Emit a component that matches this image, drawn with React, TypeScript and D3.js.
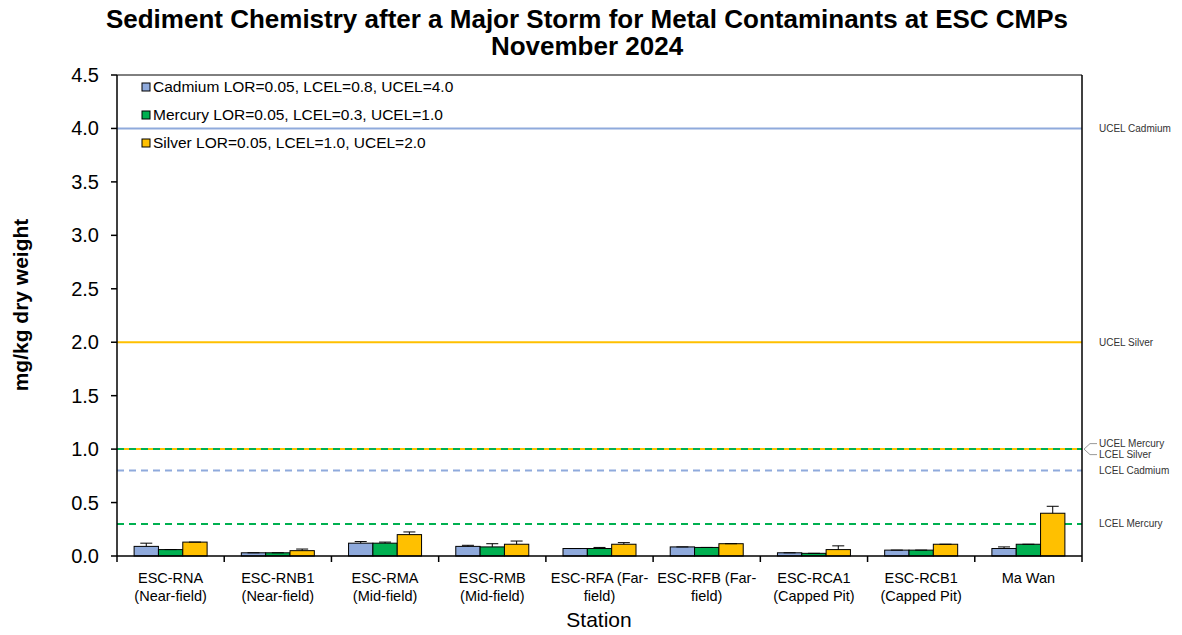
import React from "react";
import * as d3 from "d3";

const stations = ["ESC-RNA", "ESC-RNB1", "ESC-RMA", "ESC-RMB", "ESC-RFA", "ESC-RFB", "ESC-RCA1", "ESC-RCB1", "Ma Wan"];
const stationLabels: string[][] = [
  ["ESC-RNA", "(Near-field)"],
  ["ESC-RNB1", "(Near-field)"],
  ["ESC-RMA", "(Mid-field)"],
  ["ESC-RMB", "(Mid-field)"],
  ["ESC-RFA (Far-", "field)"],
  ["ESC-RFB (Far-", "field)"],
  ["ESC-RCA1", "(Capped Pit)"],
  ["ESC-RCB1", "(Capped Pit)"],
  ["Ma Wan"],
];
const seriesNames = ["Cadmium", "Mercury", "Silver"];
const legendLabels = [
  "Cadmium LOR=0.05, LCEL=0.8, UCEL=4.0",
  "Mercury LOR=0.05, LCEL=0.3, UCEL=1.0",
  "Silver LOR=0.05, LCEL=1.0, UCEL=2.0",
];
const cadmium = [0.09, 0.03, 0.12, 0.09, 0.07, 0.085, 0.03, 0.055, 0.07];
const cadmiumErr = [0.03, 0.0, 0.015, 0.01, 0.0, 0.0, 0.0, 0.0, 0.015];
const mercury = [0.06, 0.03, 0.12, 0.085, 0.07, 0.08, 0.025, 0.055, 0.11];
const mercuryErr = [0.0, 0.0, 0.01, 0.03, 0.01, 0.0, 0.0, 0.0, 0.0];
const silver = [0.13, 0.05, 0.2, 0.11, 0.11, 0.115, 0.06, 0.11, 0.4];
const silverErr = [0.0, 0.015, 0.025, 0.03, 0.015, 0.0, 0.035, 0.0, 0.065];
const yTicks = [0, 0.5, 1.0, 1.5, 2.0, 2.5, 3.0, 3.5, 4.0, 4.5];

const refLines = [
  { value: 4.0, color: "#8FAADC", dashed: false },
  { value: 2.0, color: "#FFC000", dashed: false },
  { value: 1.0, color: "#FFC000", dashed: false },
  { value: 1.0, color: "#00B050", dashed: true },
  { value: 0.8, color: "#8FAADC", dashed: true },
  { value: 0.3, color: "#00B050", dashed: true },
];
const refLabels = [
  { text: "UCEL Cadmium", value: 4.0, offset: 0 },
  { text: "UCEL Silver", value: 2.0, offset: 0 },
  { text: "UCEL Mercury", value: 1.0, offset: -5.5 },
  { text: "LCEL Silver", value: 1.0, offset: 5.5 },
  { text: "LCEL Cadmium", value: 0.8, offset: 0 },
  { text: "LCEL Mercury", value: 0.3, offset: 0 },
];

const colors = ["#8FAADC", "#00B050", "#FFC000"];
const FONT = "'Liberation Sans', Arial, sans-serif";

export default function App() {
  const W = 1182, H = 635;
  const m = { left: 117, right: 1082, top: 75, bottom: 556 };
  const y = d3.scaleLinear().domain([0, 4.5]).range([m.bottom, m.top]);
  const x = d3.scaleBand<string>().domain(stations).range([m.left, m.right]).paddingInner(0).paddingOuter(0);
  const inner = d3.scaleBand<string>().domain(seriesNames).range([0, 73]);
  const groupOffset = (x.bandwidth() - 73) / 2;
  const series = [
    { vals: cadmium, errs: cadmiumErr },
    { vals: mercury, errs: mercuryErr },
    { vals: silver, errs: silverErr },
  ];

  return (
    <svg width={W} height={H} style={{ position: "absolute", left: 0, top: 0, background: "#fff" }} fontFamily={FONT}>
      <rect x={0} y={0} width={W} height={H} fill="#fff" />
      {/* Title */}
      <text x={587} y={28} textAnchor="middle" fontSize={26} fontWeight="bold" fill="#000">
        Sediment Chemistry after a Major Storm for Metal Contaminants at ESC CMPs
      </text>
      <text x={587} y={55} textAnchor="middle" fontSize={26} fontWeight="bold" fill="#000">
        November 2024
      </text>

      {/* Reference lines */}
      {refLines.map((r, i) => (
        <line key={"rl" + i} x1={m.left} x2={m.right} y1={y(r.value)} y2={y(r.value)}
          stroke={r.color} strokeWidth={2} strokeDasharray={r.dashed ? "7,5" : undefined} />
      ))}

      {/* Bars */}
      {series.map((s, si) =>
        stations.map((st, i) => {
          const bx = (x(st) as number) + groupOffset + (inner(seriesNames[si]) as number);
          const bw = inner.bandwidth();
          const top = y(s.vals[i]);
          const errTop = y(s.vals[i] + s.errs[i]);
          const cx = bx + bw / 2;
          return (
            <g key={"b" + si + "-" + i}>
              <rect x={bx} y={top} width={bw} height={m.bottom - top} fill={colors[si]} stroke="#000" strokeWidth={1} />
              <line x1={cx} x2={cx} y1={top} y2={errTop} stroke="#000" strokeWidth={1} />
              <line x1={cx - 6} x2={cx + 6} y1={errTop} y2={errTop} stroke="#000" strokeWidth={1} />
            </g>
          );
        })
      )}

      {/* Frame */}
      <line x1={m.left} x2={m.right} y1={m.top} y2={m.top} stroke="#000" strokeWidth={1} />
      <line x1={m.right} x2={m.right} y1={m.top} y2={m.bottom} stroke="#000" strokeWidth={1.5} />
      <line x1={m.left} x2={m.left} y1={m.top} y2={m.bottom} stroke="#000" strokeWidth={1.5} />
      <line x1={m.left} x2={m.right} y1={m.bottom} y2={m.bottom} stroke="#000" strokeWidth={1.5} />

      {/* Y axis ticks */}
      {yTicks.map((t) => (
        <g key={"yt" + t}>
          <line x1={m.left - 6} x2={m.left} y1={y(t)} y2={y(t)} stroke="#000" strokeWidth={1.5} />
          <text x={99} y={y(t)} dy="0.35em" textAnchor="end" fontSize={20} fill="#000">
            {d3.format(".1f")(t)}
          </text>
        </g>
      ))}

      {/* X axis ticks */}
      {stations.map((st, i) => (
        <line key={"xt" + i} x1={(x(st) as number)} x2={(x(st) as number)} y1={m.bottom} y2={m.bottom + 6} stroke="#000" strokeWidth={1.5} />
      ))}
      <line x1={m.right} x2={m.right} y1={m.bottom} y2={m.bottom + 6} stroke="#000" strokeWidth={1.5} />
      {stations.map((st, i) => (
        <text key={"xl" + i} x={(x(st) as number) + x.bandwidth() / 2} y={583} textAnchor="middle" fontSize={14.5} fill="#000">
          {stationLabels[i].map((l, li) => (
            <tspan key={li} x={(x(st) as number) + x.bandwidth() / 2} dy={li === 0 ? 0 : 18}>{l}</tspan>
          ))}
        </text>
      ))}

      {/* Axis titles */}
      <text x={599} y={627} textAnchor="middle" fontSize={21} fill="#000">Station</text>
      <text transform={`translate(28,305) rotate(-90)`} textAnchor="middle" fontSize={21} fontWeight="bold" fill="#000">
        mg/kg dry weight
      </text>

      {/* Legend */}
      {legendLabels.map((l, i) => (
        <g key={"lg" + i}>
          <rect x={142} y={83 + i * 28} width={8} height={8} fill={colors[i]} stroke="#000" strokeWidth={1} />
          <text x={153} y={87 + i * 28} dy="0.35em" fontSize={15.5} fill="#000">{l}</text>
        </g>
      ))}

      {/* Right labels */}
      {refLabels.map((r, i) => {
        const ly = y(r.value) + r.offset;
        const leader = r.offset !== 0;
        return (
          <g key={"rlab" + i}>
            {leader && (
              <polyline points={`${m.right + 2},${y(r.value)} ${m.right + 8},${ly} ${m.right + 15},${ly}`} fill="none" stroke="#999" strokeWidth={1} />
            )}
            <text x={1099} y={ly} dy="0.35em" fontSize={10} fill="#333">{r.text}</text>
          </g>
        );
      })}
    </svg>
  );
}
